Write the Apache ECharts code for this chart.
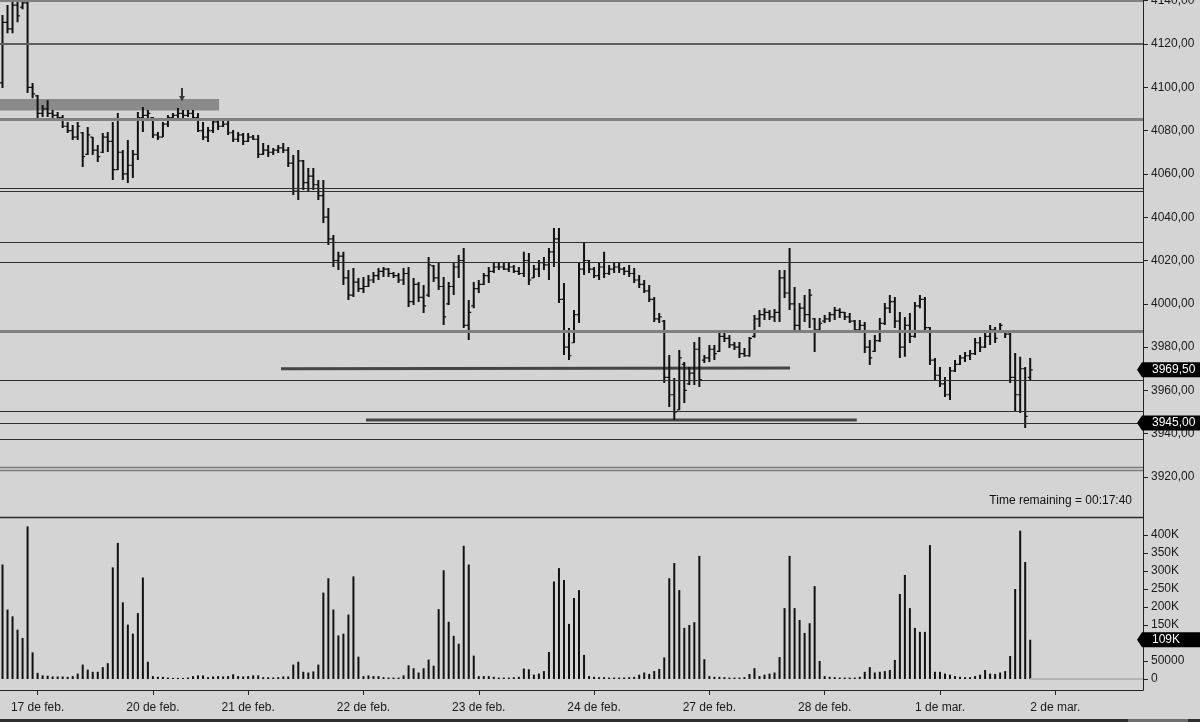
<!DOCTYPE html>
<html><head><meta charset="utf-8">
<script src="https://cdn.jsdelivr.net/npm/echarts@6/dist/echarts.min.js"></script>
<style>html,body{margin:0;padding:0;background:#d4d4d4}#c{width:1200px;height:722px}</style>
</head><body><div id="c"></div><script>
// ---------- data ----------
const sessionLabels = ['', '17 de feb.', '20 de feb.', '21 de feb.', '22 de feb.', '23 de feb.', '24 de feb.', '27 de feb.', '28 de feb.', '1 de mar.', '2 de mar.'];
const sessionLengths = [7, 23, 19, 23, 23, 23, 23, 23, 23, 23, 18];

const opens = [
4102,4130,4127,4138,4137,4139,4100,4096,4088,4090,
4088,4087,4086,4082,4080,4077,4079,4069,4077,4071,
4070,4077,4075,4062,4070,4060,4064,4069,4086,4087,
4086,4078,4077,4083,4086,4087,4088,4087,4088,4086,
4080,4077,4080,4084,4082,4083,4079,4076,4078,4075,
4077,4076,4069,4071,4070,4071,4072,4071,4065,4052,
4066,4056,4059,4055,4050,4040,4030,4020,4022,4012,
4004,4010,4007,4008,4011,4013,4015,4016,4014,4013,
4011,4014,4001,4009,4003,4004,4017.5,4012,4008,4000,
4008,4017,4020,3990,3999,4007,4009,4013,4015,4017,
4017,4016,4017,4015,4014,4020,4012,4016,4019,4018,
4024,4030,4002,3980,3982,3995,4016,4020,4016,4013,
4017,4014,4016,4017,4016,4015,4014,4011,4009,4006,
4002,3993,3992,3966,3958,3951,3972,3963,3968,3979,
3974,3975,3979,3978,3985,3984,3981,3980,3977,3976,
3985,3993,3995,3996,3994,3996,4012,4005,4000,3990,
3998,3995,3993,3988,3992,3993,3995,3997,3996,3994,
3992,3988,3990,3980,3978,3983,3991,3998,4001,3992,
3980,3990,3985,3999,4002,3989,3974,3967,3963,3958,
3969,3972,3975,3976,3977,3982,3980,3985,3988,3987,
3987,3986,3966,3958,3970,3966];
const highs = [
4133.4,4138,4142,4142,4142,4142,4102,4096.4,4091.8,4094,
4089.5,4088.6,4087.2,4084,4082.6,4084,4079.4,4081.7,4077,4073.3,
4078.9,4079.4,4084,4088.1,4071,4075.7,4071,4088.6,4090.9,4089.5,
4086.3,4079.4,4084,4087.2,4088.1,4090.4,4089.5,4089.5,4089.5,4088.1,
4084,4081.7,4084.9,4085.8,4084.9,4085.8,4080.3,4079.4,4078.9,4078.9,
4078,4078,4074.3,4073.3,4072,4073.3,4074.3,4072.4,4068.7,4071,
4066.4,4062.7,4062.7,4057.2,4057.2,4044.2,4031.8,4024,4024,4015.6,
4016.5,4011.9,4012.4,4013.3,4014.7,4016.5,4017,4016.5,4014.7,4014.2,
4016.5,4017,4011.9,4010.1,4008.7,4021.6,4017.9,4018.8,4012.4,4010.1,
4019.3,4022.5,4025.8,4001.8,4010.1,4011,4014.2,4017,4018.8,4018.8,
4018.8,4018.8,4017.9,4017,4024,4023.5,4017.9,4020.2,4021.6,4025.8,
4035,4035,4009.6,3988.8,3997.1,4018.8,4028.5,4020.2,4017,4018.8,
4024,4017.9,4018.8,4018.8,4017,4017.9,4016.5,4013.3,4011,4008.7,
4003.1,3995.7,3992.5,3976.4,3965.7,3978.7,3973.1,3970.8,3982.4,3984.7,
3976.4,3981,3981,3986.5,3987,3985.6,3982.4,3982.4,3979.6,3984.7,
3994.8,3997.1,3998,3997.1,3997.6,4015.6,4015.6,4025.8,4007.8,4000.4,
4004.1,4006.8,3993.4,3993.4,3994.8,3996.2,3998.5,3998,3996.2,3995.7,
3992.5,3992.5,3991.6,3983.3,3985.6,3993.4,4000.4,4004.1,4003.1,3996.2,
3993.9,3995.7,4000.8,4004.1,4003.1,3989.3,3975,3970.8,3966.2,3970.8,
3974,3976.4,3977.7,3978.7,3984.2,3984.7,3987,3990.2,3989.3,3991.1,
3987.9,3987,3977.3,3975.5,3970.8,3975];
const lows = [
4099.7,4125,4125,4130,4136,4097.4,4095,4085.8,4086.3,4086.3,
4084.9,4084.9,4081.2,4078.9,4075.7,4075.7,4063.2,4068.7,4068.7,4065.5,
4069.7,4070.1,4057.2,4061.8,4057.2,4055.8,4058.1,4066.4,4079.4,4085.8,
4076.6,4075.7,4077,4081.7,4084.9,4085.8,4084.9,4086.3,4084.9,4079.4,
4075.7,4074.7,4078.9,4080.3,4081.7,4078,4074.7,4074.7,4073.3,4074.7,
4075.7,4067.3,4068.7,4067.8,4068.7,4069.7,4069.7,4063.2,4050.3,4047.9,
4052.6,4051.6,4052.6,4047.9,4037.3,4027.2,4017,4015.6,4008.7,4001.8,
4003.1,4005.4,4005,4007.8,4009.6,4011,4012.4,4012.4,4011.9,4009.6,
4008.7,3998.5,3999.4,4000.8,3995.7,4003.1,4010.1,4006.4,3990.2,3999.4,
4004.1,4011.9,3988.8,3983.3,3998,4005,4008.7,4009.6,4014.2,4015.6,
4015.6,4014.7,4014.2,4013.3,4012.4,4008.7,4011.9,4012.4,4015.6,4011,
4017,4000.4,3976.4,3974,3981.9,3991.1,4013.3,4014.2,4011.9,4011,
4011.9,4013.3,4014.2,4014.2,4013.3,4012.4,4009.6,4007.3,4005,4000.8,
3991.6,3991.1,3963.4,3952.3,3946.3,3950.9,3954.2,3962.5,3962.5,3961.6,
3972.6,3973.1,3974,3977.7,3982.4,3979.6,3978.7,3975,3975.5,3975.5,
3984.3,3989.3,3992.5,3992.5,3991.6,3991.6,4002.7,3997.1,3987,3987,
3991.6,3988.8,3977.7,3987.9,3991.1,3991.6,3992.5,3993.4,3992.5,3991.1,
3986.5,3987,3977.3,3971.7,3977.7,3982.4,3990.2,3995.7,3988.8,3975,
3975.5,3981.9,3984.3,3998,3987.9,3971.7,3964.8,3961.6,3956.9,3955.6,
3968.5,3971.7,3973.1,3974,3976.4,3977.7,3979.6,3981,3981.9,3986.5,
3984.2,3963.4,3950,3949.6,3942.6,3964.4];
const closes = [
4130,4127,4138,4133,4139,4100,4097,4088,4090,4088,
4087,4086,4082,4080,4077,4082,4068,4078,4071,4068,
4077,4075,4062,4070,4060,4064,4069,4086,4087,4088,
4078,4077,4083,4086,4087,4088,4087,4088,4086,4080,
4077,4080,4084,4082,4083,4079,4076,4078,4075,4077,
4076,4069,4071,4070,4071,4072,4071,4065,4052,4066,
4056,4059,4055,4050,4040,4030,4020,4022,4012,4004,
4010,4007,4008,4011,4013,4015,4016,4014,4013,4011,
4014,4001,4009,4003,3999,4018,4012,4008,3994,4008,
4017,4020,3990,3996,4007,4009,4013,4015,4017,4017,
4016,4017,4015,4014,4020,4011,4016,4019,4018,4024,
4030,4002,3980,3976,3995,4016,4020,4016,4013,4017,
4014,4016,4017,4016,4015,4014,4011,4009,4006,4002,
3993,3994,3966,3958,3950,3975,3960,3968,3979,3965,
3975,3979,3977,3985,3984,3981,3980,3977,3976,3984,
3993,3995,3996,3994,3996,4012,4005,4000,3990,3998,
3995,4004,3988,3991,3993,3995,3997,3996,3994,3992,
3988,3990,3980,3975,3983,3991,3998,4001,3992,3980,
3990,3985,3999,4002,3989,3974,3967,3963,3958,3969,
3972,3975,3976,3977,3982,3980,3985,3988,3984,3990,
3986,3966,3958,3970,3948,3969.5];
const volumesK = [
318,193,174,137,114,424,74,
17,10,9,7,7,7,6,8,15,40,26,20,20,33,44,310,378,213,151,126,183,282,48,
8,6,6,4,3,3,3,4,8,10,10,5,7,8,7,8,13,8,7,
8,10,10,5,5,4,5,7,7,40,48,20,18,21,40,240,280,193,121,126,179,285,62,
8,10,8,8,5,4,4,4,10,38,30,18,30,54,37,194,302,159,120,98,370,318,65,
8,8,8,6,4,4,4,5,6,29,27,12,15,22,75,271,308,275,153,225,247,67,8,
6,5,5,4,4,4,4,5,6,12,18,14,22,28,60,280,322,247,142,150,158,342,55,
8,6,6,5,4,4,4,5,14,30,8,12,15,18,61,197,342,197,164,128,155,258,50,
8,6,5,4,4,4,4,6,20,33,18,20,22,25,53,236,289,197,142,131,131,372,20,
20,15,12,8,6,5,5,8,12,25,15,14,18,22,64,250,412,325,109];

const levelPrices = [4140, 4120, 4085.2, 4053.4, 4052.2, 4028.2, 4019.0, 3987.1, 3964.8, 3950.5, 3945.0, 3937.6, 3924.5, 3923.2];
const levelKinds  = ['grey','mid','grey','dark','dark','dark','dark','grey','dark','dark','dark','dark','thin','thin'];
const segmentLines = [[[55.55, 3970.0], [157.1, 3970.4]], [[72.5, 3946.3], [170.4, 3946.3]]];
const zoneBox = [[-0.5, 4094.6], [43.2, 4089.3]];
const arrowMark = [35.8, 4096.7];
const lastPrice = 3969.5, markedLevel = 3945.0, lastVolume = 109000;
const yTicksPrice = {min: 3900, max: 4140, interval: 20};
const yTicksVol = {min: 0, max: 444444, interval: 50000};

// ---------- build ----------
const categories = [];
sessionLabels.forEach((lab, k) => { for (let j = 0; j < sessionLengths[k]; j++) categories.push(j === 0 ? lab : ''); });
const N = categories.length;
const ohlc = opens.map((o, i) => [i, o, highs[i], lows[i], closes[i]]);
const volumes = volumesK.map(v => v * 1000);
const levelStyle = {
  grey: {color: '#808080', width: 3},
  mid:  {color: '#5e5e5e', width: 2},
  dark: {color: '#2e2e2e', width: 1.2},
  thin: {color: '#7a7a7a', width: 1.3}
};
const FONT = 'Liberation Sans, Arial, sans-serif';
const priceFmt = v => v.toFixed(2).replace('.', ',');
const volFmt = v => v === 0 ? '0' : (v >= 100000 ? (v / 1000) + 'K' : String(v));
const showLab = (idx, val) => val !== '';

const chart = echarts.init(document.getElementById('c'), null, {renderer: 'canvas'});
const GW = 1143;
const option = {
  animation: false,
  backgroundColor: '#d4d4d4',
  textStyle: {fontFamily: FONT},
  grid: [
    {left: 0, top: 0.7, width: GW, height: 519.6, containLabel: false, outerBoundsMode: 'none'},
    {left: 0, top: 519, width: GW, height: 160, containLabel: false, outerBoundsMode: 'none'}
  ],
  xAxis: [
    {type: 'category', gridIndex: 0, data: categories, boundaryGap: true, show: false, axisLine: {onZero: false}},
    {type: 'category', gridIndex: 1, data: categories, boundaryGap: true, position: 'bottom', offset: 11,
      axisLine: {show: true, onZero: false, lineStyle: {color: '#222', width: 1}},
      axisTick: {show: true, alignWithLabel: true, interval: showLab, length: 5, lineStyle: {color: '#222'}},
      axisLabel: {show: true, interval: showLab, margin: 12, fontSize: 12, color: '#1a1a1a', fontFamily: FONT},
      splitLine: {show: false}},
    {type: 'value', gridIndex: 0, min: -0.5, max: N - 0.5, show: false, axisLine: {onZero: false}},
    {type: 'value', gridIndex: 1, min: -0.5, max: N - 0.5, show: false, axisLine: {onZero: false}}
  ],
  yAxis: [
    {type: 'value', gridIndex: 0, position: 'right', min: yTicksPrice.min, max: yTicksPrice.max, interval: yTicksPrice.interval,
      axisLine: {show: false, onZero: false}, splitLine: {show: false},
      axisTick: {show: true, inside: false, length: 5, lineStyle: {color: '#222', width: 1}},
      axisLabel: {formatter: priceFmt, margin: 8, fontSize: 12, color: '#1a1a1a', showMinLabel: false, fontFamily: FONT}},
    {type: 'value', gridIndex: 1, position: 'right', min: yTicksVol.min, max: yTicksVol.max, interval: yTicksVol.interval,
      axisLine: {show: false, onZero: false}, splitLine: {show: false},
      axisTick: {show: true, inside: false, length: 5, lineStyle: {color: '#222', width: 1}},
      axisLabel: {formatter: volFmt, margin: 8, fontSize: 12, color: '#1a1a1a', showMaxLabel: false, fontFamily: FONT}}
  ],
  series: [
    {
      type: 'line', name: 'annotations', xAxisIndex: 2, yAxisIndex: 0, z: 1,
      data: [segmentLines[0][0], segmentLines[0][1], [null, null], segmentLines[1][0], segmentLines[1][1]],
      connectNulls: false, showSymbol: false, symbol: 'none', silent: true,
      lineStyle: {color: '#454545', width: 3},
      markLine: {
        silent: true, symbol: ['none', 'none'], label: {show: false}, animation: false,
        data: levelPrices.map((p, k) => ({yAxis: p, lineStyle: {type: 'solid', color: levelStyle[levelKinds[k]].color, width: levelStyle[levelKinds[k]].width}}))
      },
      markArea: {
        silent: true, itemStyle: {color: '#8a8a8a'},
        data: [[{coord: zoneBox[0]}, {coord: zoneBox[1]}]]
      }
    },
    {
      type: 'custom', name: 'price', xAxisIndex: 0, yAxisIndex: 0, z: 3, clip: true,
      data: ohlc, encode: {x: 0, y: [1, 2, 3, 4]},
      renderItem: function (params, api) {
        const i = api.value(0);
        const pH = api.coord([i, api.value(2)]);
        const pL = api.coord([i, api.value(3)]);
        const pO = api.coord([i, api.value(1)]);
        const pC = api.coord([i, api.value(4)]);
        const x = pH[0];
        return {type: 'group', children: [
          {type: 'line', shape: {x1: x, y1: pH[1], x2: x, y2: pL[1]}, style: {stroke: '#111', lineWidth: 2}},
          {type: 'line', shape: {x1: x - 2.5, y1: pO[1], x2: x, y2: pO[1]}, style: {stroke: '#111', lineWidth: 1.2}},
          {type: 'line', shape: {x1: x, y1: pC[1], x2: x + 2.5, y2: pC[1]}, style: {stroke: '#111', lineWidth: 1.2}}
        ]};
      }
    },
    {
      type: 'scatter', name: 'arrow', xAxisIndex: 2, yAxisIndex: 0, z: 4, silent: true,
      data: [arrowMark],
      symbol: 'path://M2,0 L4,0 L4,8 L6,8 L3,13 L0,8 L2,8 Z', symbolSize: [6, 13],
      itemStyle: {color: '#111'}
    },
    {
      type: 'bar', name: 'volume', xAxisIndex: 1, yAxisIndex: 1, data: volumes,
      barWidth: 2, itemStyle: {color: '#111'}, silent: true
    },
    {
      type: 'line', name: 'zero', xAxisIndex: 3, yAxisIndex: 1, data: [[N - 23, 0], [N - 0.5, 0]],
      showSymbol: false, symbol: 'none', lineStyle: {color: '#b4b4b4', width: 2}, silent: true
    }
  ]
};
chart.setOption(option);

function tag(y, text) {
  return {type: 'group', z: 100, children: [
    {type: 'polygon', z: 100, shape: {points: [[1137, y], [1142, y - 7.5], [1200, y - 7.5], [1200, y + 7.5], [1142, y + 7.5]]}, style: {fill: '#000'}},
    {type: 'text', z: 101, x: 1152, y: y, style: {text: text, fill: '#fff', font: '12px ' + FONT, verticalAlign: 'middle', textVerticalAlign: 'middle'}}
  ]};
}
const yLast = chart.convertToPixel({yAxisIndex: 0}, lastPrice);
const yLevel = chart.convertToPixel({yAxisIndex: 0}, markedLevel);
const yVol = chart.convertToPixel({yAxisIndex: 1}, lastVolume);
chart.setOption({graphic: [
  {type: 'line', z: 50, shape: {x1: 1143.5, y1: 0, x2: 1143.5, y2: 690}, style: {stroke: '#222', lineWidth: 1}},
  {type: 'line', z: 50, shape: {x1: 0, y1: 517.5, x2: 1143.5, y2: 517.5}, style: {stroke: '#2a2a2a', lineWidth: 1.5}},
  {type: 'line', z: 50, shape: {x1: 0, y1: 690.5, x2: 1143.5, y2: 690.5}, style: {stroke: '#222', lineWidth: 1}},
  {type: 'rect', z: 50, shape: {x: 0, y: 519, width: 1143, height: 2}, style: {fill: '#d4d4d4'}},
  {type: 'text', z: 60, x: 1132, y: 501, style: {text: 'Time remaining = 00:17:40', fill: '#111', font: '12px ' + FONT, align: 'right', textAlign: 'right', verticalAlign: 'middle', textVerticalAlign: 'middle'}},
  {type: 'rect', z: 50, shape: {x: 0, y: 719, width: 1200, height: 3}, style: {fill: '#2e2e2e'}},
  {type: 'rect', z: 51, shape: {x: 1128, y: 719, width: 60, height: 3}, style: {fill: '#6e6e6e'}},
  tag(yLast, priceFmt(lastPrice)),
  tag(yLevel, priceFmt(markedLevel)),
  tag(yVol, Math.round(lastVolume / 1000) + 'K')
]});
</script></body></html>
